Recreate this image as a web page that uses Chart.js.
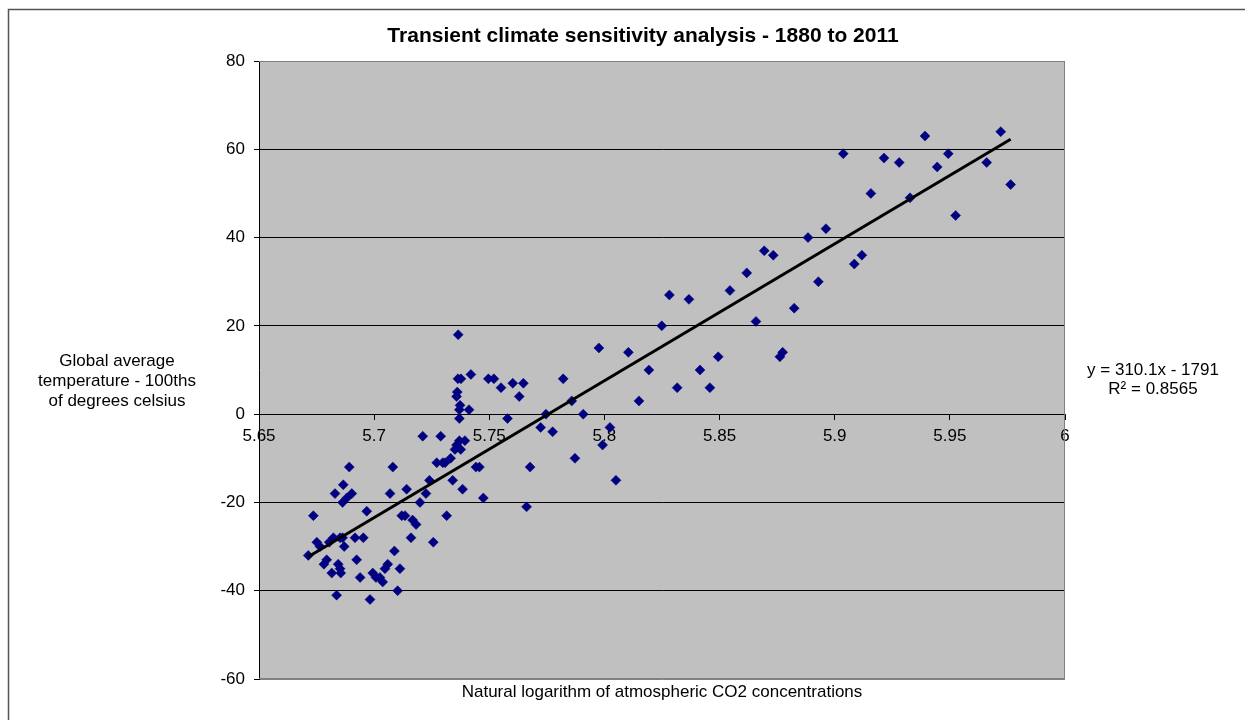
<!DOCTYPE html>
<html>
<head>
<meta charset="utf-8">
<script src="https://cdn.jsdelivr.net/npm/chart.js@4.4.0/dist/chart.umd.min.js"></script>
<style>
  html, body { margin: 0; padding: 0; background: #fff; }
  #wrap { position: relative; width: 1245px; height: 720px; }
</style>
</head>
<body>
<div id="wrap"><canvas id="chart" width="1245" height="720"></canvas></div>
<script>
// ln(CO2) and temperature anomaly (100ths of a degree)
const co2Log = [
  5.6714, 5.6736, 5.6751, 5.6765, 5.6782, 5.6794, 5.6805, 5.6823, 5.6816, 5.6830,
  5.6837, 5.6844, 5.6852, 5.6855, 5.6852, 5.6863, 5.6866, 5.6870, 5.6863, 5.6881,
  5.6903, 5.6892, 5.6917, 5.6924, 5.6939, 5.6953, 5.6968, 5.6982, 5.6994, 5.7008,
  5.7025, 5.7037, 5.7047, 5.7059, 5.7069, 5.7081, 5.7088, 5.7102, 5.7112, 5.7120,
  5.7134, 5.7141, 5.7160, 5.7167, 5.7182,
  5.7199, 5.7211, 5.7225, 5.7240, 5.7257, 5.7272, 5.7289, 5.7298, 5.7308, 5.7315,
  5.7332, 5.7341, 5.7351, 5.7358, 5.7370, 5.7376, 5.7394, 5.7370, 5.7373, 5.7370,
  5.7361, 5.7358, 5.7365, 5.7364, 5.7377, 5.7412, 5.7420, 5.7384, 5.7442, 5.7457,
  5.7474, 5.7496, 5.7520, 5.7551, 5.7579, 5.7602, 5.7630, 5.7648, 5.7662, 5.7677,
  5.7723, 5.7746, 5.7775, 5.7821, 5.7858, 5.7872, 5.7908, 5.7976, 5.7992, 5.8024,
  5.8050,
  5.8104, 5.8150, 5.8193, 5.8249, 5.8282, 5.8316, 5.8367, 5.8415, 5.8458, 5.8494,
  5.8545, 5.8618, 5.8658, 5.8694, 5.8733, 5.8762, 5.8774, 5.8824, 5.8884, 5.8929,
  5.8962, 5.9037, 5.9085, 5.9118, 5.9157, 5.9214, 5.9280, 5.9327, 5.9392, 5.9445,
  5.9493, 5.9525, 5.9660, 5.9721, 5.9764
];
const tempAnom = [
  -32, -23, -29, -30, -34, -33, -29, -28, -36, -18,
  -41, -34, -35, -36, -28, -28, -16, -30, -20, -19,
  -18, -12, -28, -33, -37, -28, -22, -42, -36, -37,
  -37, -38, -35, -34, -18, -12, -31, -40, -35, -23,
  -23, -17, -28, -24, -25,
  -20, -5, -18, -15, -29, -11, -5, -11, -11, -23,
  -10, -15, -8, -7, -6, -8, -6, -1, 2, 1,
  5, 4, 18, 8, 8, 1, 9, -17, -12, -12,
  -19, 8, 8, 6, -1, 7, 4, 7, -21, -12,
  -3, 0, -4, 8, 3, -10, 0, 15, -7, -3,
  -15,
  14, 3, 10, 20, 27, 6, 26, 10, 6, 13,
  28, 32, 21, 37, 36, 13, 14, 24, 40, 30,
  42, 59, 34, 36, 50, 58, 57, 49, 63, 56,
  59, 45, 57, 64, 52
];
const xTicks = [5.65, 5.7, 5.75, 5.8, 5.85, 5.9, 5.95, 6];
const yTicks = [-60, -40, -20, 0, 20, 40, 60, 80];

// Excel linear trendline shown in the chart
const trendSlope = 310.1;
const trendIntercept = -1791;
const trendR2 = 0.8565;

const FONT = '"Liberation Sans", Arial, sans-serif';

const points = co2Log.map((x, i) => ({ x: x, y: tempAnom[i] }));
const xMin = Math.min(...co2Log);
const xMax = Math.max(...co2Log);
const trendPoints = [xMin, xMax].map(x => ({ x: x, y: trendSlope * x + trendIntercept }));

const decorPlugin = {
  id: 'decor',
  beforeDraw(chart) {
    const ctx = chart.ctx;
    const a = chart.chartArea;
    ctx.save();
    ctx.fillStyle = '#fff';
    ctx.fillRect(0, 0, chart.width, chart.height);
    // outer frame (left + top visible)
    ctx.strokeStyle = '#555';
    ctx.lineWidth = 1.5;
    ctx.beginPath();
    ctx.moveTo(8.5, 720);
    ctx.lineTo(8.5, 9.5);
    ctx.lineTo(1245, 9.5);
    ctx.stroke();
    // plot area
    ctx.fillStyle = '#C0C0C0';
    ctx.fillRect(a.left, a.top, a.right - a.left, a.bottom - a.top);
    ctx.restore();
  },
  beforeDatasetsDraw(chart) {
    const ctx = chart.ctx;
    const a = chart.chartArea;
    ctx.save();
    ctx.strokeStyle = '#808080';
    ctx.lineWidth = 1;
    ctx.beginPath();
    ctx.moveTo(a.left, a.top + 0.5);
    ctx.lineTo(a.right - 0.5, a.top + 0.5);
    ctx.lineTo(a.right - 0.5, a.bottom - 0.5);
    ctx.lineTo(a.left, a.bottom - 0.5);
    ctx.stroke();
    ctx.restore();
  },
  afterDraw(chart) {
    const ctx = chart.ctx;
    ctx.save();
    ctx.fillStyle = '#000';
    ctx.textAlign = 'center';
    ctx.textBaseline = 'middle';
    ctx.font = 'bold 21px ' + FONT;
    ctx.fillText('Transient climate sensitivity analysis - 1880 to 2011', 643, 36);
    ctx.font = '17px ' + FONT;
    ctx.fillText('Global average', 117, 361);
    ctx.fillText('temperature - 100ths', 117, 381);
    ctx.fillText('of degrees celsius', 117, 401);
    ctx.fillText('Natural logarithm of atmospheric CO2 concentrations', 662, 692);
    ctx.fillText('y = ' + trendSlope + 'x - ' + Math.abs(trendIntercept), 1153, 370);
    ctx.fillText('R\u00B2 = ' + trendR2, 1153, 389);
    ctx.restore();
  }
};

new Chart(document.getElementById('chart'), {
  type: 'scatter',
  data: {
    datasets: [
      {
        type: 'line',
        label: 'Trend',
        data: trendPoints,
        borderColor: '#000',
        borderWidth: 3,
        pointRadius: 0,
        fill: false,
        order: 0
      },
      {
        label: 'Years',
        data: points,
        pointStyle: 'rectRot',
        pointRadius: 5,
        backgroundColor: '#000080',
        borderColor: '#000080',
        borderWidth: 0.5,
        order: 1
      }
    ]
  },
  options: {
    responsive: false,
    animation: false,
    layout: { padding: { left: 0, right: 180, top: 61, bottom: 41 } },
    plugins: {
      legend: { display: false },
      tooltip: { enabled: false },
      title: { display: false }
    },
    scales: {
      x: {
        type: 'linear',
        position: { y: 0 },
        min: 5.65,
        max: 6,
        afterBuildTicks: axis => { axis.ticks = xTicks.map(v => ({ value: v })); },
        ticks: {
          color: '#000',
          font: { family: FONT, size: 17 },
          padding: 7,
          maxRotation: 0,
          autoSkip: false,
          callback: v => String(v)
        },
        grid: { drawOnChartArea: false, drawTicks: true, tickLength: 5, tickColor: '#000' },
        border: { display: true, color: '#000', width: 1 }
      },
      y: {
        type: 'linear',
        position: 'left',
        min: -60,
        max: 80,
        afterBuildTicks: axis => { axis.ticks = yTicks.map(v => ({ value: v })); },
        afterFit: axis => { axis.width = 259; },
        ticks: {
          color: '#000',
          font: { family: FONT, size: 17 },
          padding: 9,
          autoSkip: false,
          callback: v => String(v)
        },
        grid: {
          color: c => (c.tick && (c.tick.value === 80 || c.tick.value === -60)) ? '#808080' : '#000',
          tickColor: '#000',
          tickLength: 5,
          lineWidth: 1
        },
        border: { display: true, color: '#000', width: 1 }
      }
    }
  },
  plugins: [decorPlugin]
});
</script>
</body>
</html>
